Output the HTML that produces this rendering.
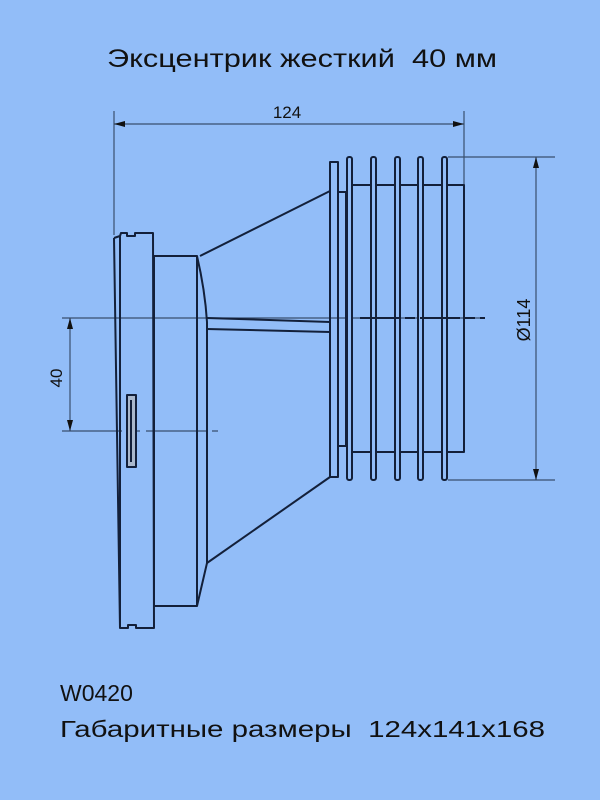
<!DOCTYPE html>
<html><head><meta charset="utf-8"><style>
html,body{margin:0;padding:0;background:#92bdf8;}
svg{display:block}
text{font-family:"Liberation Sans",sans-serif;fill:#111;white-space:pre;}
</style></head><body>
<svg width="600" height="800" viewBox="0 0 600 800" xmlns="http://www.w3.org/2000/svg" xml:space="preserve">
<rect width="600" height="800" fill="#92bdf8"/>
<text x="107" y="67" font-size="25" textLength="390" lengthAdjust="spacingAndGlyphs">Эксцентрик жесткий  40 мм</text>
<text x="60" y="701" font-size="23">W0420</text>
<text x="60" y="737" font-size="23" textLength="485" lengthAdjust="spacingAndGlyphs">Габаритные размеры  124x141x168</text>

<g stroke="#3a4f6e" stroke-width="1.2" fill="none">
<line x1="114" y1="111" x2="114" y2="235"/>
<line x1="464" y1="111" x2="464" y2="185"/>
<line x1="114" y1="124" x2="464" y2="124"/>
<line x1="448" y1="157" x2="555" y2="157"/>
<line x1="448" y1="480" x2="555" y2="480"/>
<line x1="536" y1="157" x2="536" y2="480"/>
<line x1="62" y1="318" x2="485" y2="318"/>
<line x1="62" y1="431" x2="218" y2="431" stroke-dasharray="60 6 12 6"/>
<line x1="70" y1="318" x2="70" y2="431"/>
</g>
<g fill="#111">
<polygon points="114,124 125,121 125,127"/>
<polygon points="464,124 453,121 453,127"/>
<polygon points="536,157 533,168 539,168"/>
<polygon points="536,480 533,469 539,469"/>
<polygon points="70,318 67,329 73,329"/>
<polygon points="70,431 67,420 73,420"/>
</g>
<text x="287" y="118" font-size="17" text-anchor="middle">124</text>
<text transform="translate(530,320) rotate(-90)" font-size="18" text-anchor="middle">Ø114</text>
<text transform="translate(62,378) rotate(-90)" font-size="17" text-anchor="middle">40</text>

<g stroke="#13203a" stroke-width="2" fill="none" stroke-linejoin="round">
<path d="M114,238 L120,236 L121,233 L127,233 L127,236 L135,236 L135,233 L153,233 L154,628 L136,628 L136,625 L128,625 L128,628 L120,628 L114,238"/>
<line x1="120" y1="236" x2="120" y2="628"/>
<rect x="154" y="256" width="43" height="350"/>
<path d="M197,256 Q205,290 207,322 L207,563 L197,606"/>
<line x1="200" y1="256" x2="330" y2="191"/>
<line x1="207" y1="563" x2="330" y2="477"/>
<line x1="207" y1="318" x2="330" y2="322"/>
<line x1="207" y1="329" x2="330" y2="332"/>
<rect x="127" y="395" width="9" height="72" fill="#aab8cc"/>
<line x1="131" y1="400" x2="131" y2="462"/>
<rect x="330" y="162" width="8" height="315"/>
<rect x="338" y="192" width="8" height="254"/>
<rect x="349" y="185" width="115" height="267"/>
<rect x="347" y="157" width="5" height="323" rx="2" fill="#92bdf8"/>
<rect x="371" y="157" width="5" height="323" rx="2" fill="#92bdf8"/>
<rect x="395" y="157" width="5" height="323" rx="2" fill="#92bdf8"/>
<rect x="418" y="157" width="5" height="323" rx="2" fill="#92bdf8"/>
<rect x="442" y="157" width="5" height="323" rx="2" fill="#92bdf8"/>
</g>
<line x1="360" y1="318" x2="485" y2="318" stroke="#13203a" stroke-width="2" stroke-dasharray="40 5 10 5"/>
</svg>
</body></html>
